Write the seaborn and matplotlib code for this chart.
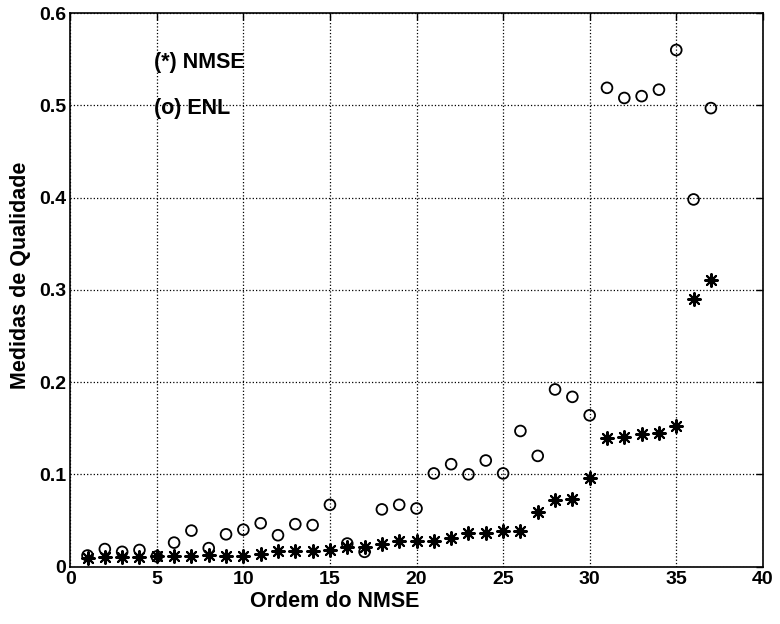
import numpy as np
import pandas as pd
import matplotlib
matplotlib.use('Agg')
import matplotlib.pyplot as plt
import seaborn as sns

# ordem do NMSE (1..37) and the two quality measures
ordem = list(range(1, 38))
nmse = [0.009, 0.010, 0.010, 0.010, 0.011, 0.012, 0.012, 0.013, 0.012, 0.012,
        0.014, 0.017, 0.017, 0.017, 0.018, 0.021, 0.021, 0.024, 0.028, 0.028,
        0.028, 0.031, 0.036, 0.036, 0.039, 0.039, 0.059, 0.072, 0.073, 0.096,
        0.139, 0.141, 0.144, 0.145, 0.152, 0.290, 0.311]
enl = [0.012, 0.019, 0.016, 0.018, 0.011, 0.026, 0.039, 0.020, 0.035, 0.040,
       0.047, 0.034, 0.046, 0.045, 0.067, 0.025, 0.016, 0.062, 0.067, 0.063,
       0.101, 0.111, 0.100, 0.115, 0.101, 0.147, 0.120, 0.192, 0.184, 0.164,
       0.519, 0.508, 0.510, 0.517, 0.560, 0.398, 0.497]

x_ticks = [0, 5, 10, 15, 20, 25, 30, 35, 40]
y_ticks = [0, 0.1, 0.2, 0.3, 0.4, 0.5, 0.6]
y_ticklabels = ['0', '0.1', '0.2', '0.3', '0.4', '0.5', '0.6']

df = pd.DataFrame({'ordem': ordem, 'nmse': nmse, 'enl': enl})

sns.set_style('white')
plt.rcParams['font.family'] = ['Liberation Sans', 'DejaVu Sans']
plt.rcParams['text.color'] = 'black'
plt.rcParams['axes.labelcolor'] = 'black'

f = plt.figure(figsize=(7.8, 6.24), dpi=100)
ax = f.add_axes([0.090, 0.092, 0.888, 0.887])

# NMSE as asterisks, ENL as open circles
sns.scatterplot(data=df, x='ordem', y='nmse', marker=(8, 2, 0), s=85,
                color='black', linewidth=1.5, ax=ax, zorder=3)
sns.scatterplot(data=df, x='ordem', y='enl', marker='o', s=60,
                facecolors='none', edgecolor='black', linewidth=1.3, ax=ax, zorder=3)

ax.set_xlim(0, 40)
ax.set_ylim(0, 0.6)
ax.set_xticks(x_ticks)
ax.set_yticks(y_ticks)
ax.set_yticklabels(y_ticklabels)
ax.tick_params(direction='in', length=5, width=1, colors='black', labelsize=14,
               pad=3, top=True, right=True)
for lab in ax.get_xticklabels() + ax.get_yticklabels():
    lab.set_fontweight('bold')

ax.grid(True, linestyle=':', color='black', linewidth=0.9)
for sp in ax.spines.values():
    sp.set_visible(True)
    sp.set_color('black')
    sp.set_linewidth(1.2)

ax.set_xlabel('Ordem do NMSE', fontsize=15.5, fontweight='bold', labelpad=-1)
ax.xaxis.set_label_coords(0.382, -0.045)
ax.set_ylabel('Medidas de Qualidade', fontsize=15.5, fontweight='bold')
ax.yaxis.set_label_coords(-0.056, 0.527)

ax.text(4.85, 0.546, '(*) NMSE', fontsize=15.5, fontweight='bold', va='center', ha='left')
ax.text(4.85, 0.497, '(o) ENL', fontsize=15.5, fontweight='bold', va='center', ha='left')

f.savefig('out.png', dpi=100)
